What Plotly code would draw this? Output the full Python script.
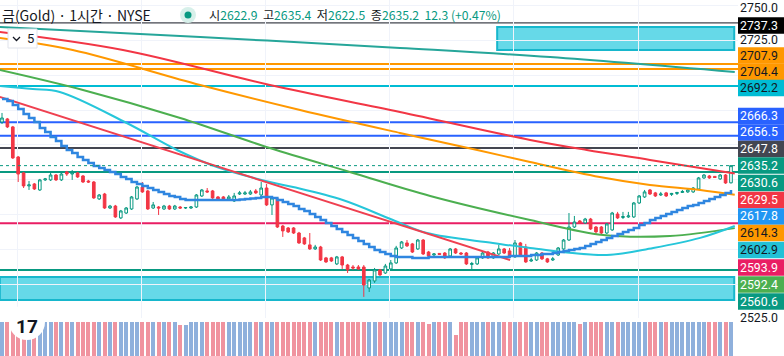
import plotly.graph_objects as go

# ---------------- DATA ----------------
candle_open = [2666.4,2668.6,2662.9,2641.4,2630.0,2620.7,2622.1,2617.8,2625.0,2625.0,
 2628.5,2625.0,2630.7,2629.2,2630.0,2627.8,2624.2,2623.5,2611.4,2614.9,
 2604.9,2606.3,2597.8,2601.3,2604.2,2611.4,2619.9,2617.1,2604.9,2605.6,
 2604.2,2606.3,2604.2,2605.6,2604.9,2604.9,2605.6,2613.5,2617.1,2617.1,
 2612.8,2612.8,2611.4,2609.9,2614.9,2614.9,2614.9,2617.1,2614.2,2619.2,
 2607.1,2611.4,2592.0,2590.6,2590.6,2587.0,2583.5,2578.5,2575.6,2577.0,
 2569.2,2569.2,2564.9,2569.9,2564.1,2562.7,2562.7,2562.7,2547.7,2552.7,
 2560.6,2558.4,2561.3,2565.6,2576.3,2579.9,2579.2,2575.6,2582.0,2573.4,
 2571.3,2572.4,2572.7,2570.6,2575.6,2572.7,2572.7,2564.5,2564.9,2569.2,
 2573.4,2569.2,2572.0,2575.6,2574.2,2569.9,2579.9,2577.0,2567.0,2567.7,
 2572.7,2568.5,2567.7,2571.3,2575.6,2582.0,2591.3,2595.6,2594.2,2597.0,
 2591.3,2591.3,2587.0,2589.2,2600.6,2598.1,2598.5,2598.5,2608.5,2612.8,
 2617.8,2615.7,2614.2,2615.7,2614.6,2615.3,2616.0,2616.4,2616.4,2618.5,
 2626.4,2627.8,2627.5,2625.7,2628.5,2622.9]
candle_close = [2669.3,2662.9,2640.7,2629.2,2620.7,2621.4,2618.5,2625.0,2625.7,2628.5,
 2625.0,2629.2,2629.2,2630.0,2627.1,2623.5,2623.5,2612.1,2614.2,2604.9,
 2606.3,2598.5,2602.8,2604.9,2612.8,2619.9,2616.4,2604.2,2607.1,2604.9,
 2606.3,2604.2,2606.3,2604.9,2605.2,2605.6,2614.2,2617.8,2616.4,2612.1,
 2611.4,2611.4,2612.8,2613.5,2615.7,2615.7,2616.4,2615.7,2619.2,2607.1,
 2612.1,2591.3,2588.5,2587.8,2587.0,2579.9,2579.2,2575.6,2577.0,2567.7,
 2566.3,2567.0,2569.9,2564.1,2560.6,2562.0,2561.3,2549.8,2553.4,2560.6,
 2557.0,2563.4,2565.6,2576.3,2580.6,2577.8,2573.4,2582.0,2572.0,2570.6,
 2572.0,2571.7,2569.2,2575.6,2572.7,2572.0,2564.9,2565.2,2569.2,2572.7,
 2569.2,2572.7,2575.6,2572.7,2569.9,2579.9,2571.3,2566.3,2567.7,2572.7,
 2568.5,2566.3,2568.5,2576.3,2582.0,2591.3,2594.9,2594.2,2597.0,2589.9,
 2587.8,2587.0,2593.5,2601.3,2597.8,2598.8,2599.2,2608.5,2613.5,2616.4,
 2614.9,2613.5,2614.9,2613.5,2615.3,2616.0,2616.7,2617.8,2619.2,2626.4,
 2628.5,2626.4,2626.7,2628.5,2622.8,2635.2]
candle_high = [2672.9,2669.3,2663.6,2642.1,2630.7,2624.2,2622.8,2625.7,2626.4,2630.7,
 2629.2,2630.0,2631.4,2632.1,2630.7,2628.5,2625.0,2624.2,2614.9,2615.7,
 2607.1,2607.1,2603.5,2605.6,2613.5,2620.7,2623.5,2617.8,2609.2,2606.3,
 2607.1,2607.1,2607.1,2606.3,2605.6,2606.3,2614.9,2618.5,2619.2,2617.8,
 2613.5,2613.5,2614.2,2615.7,2617.1,2617.1,2617.8,2618.5,2623.5,2622.1,
 2612.8,2612.1,2592.8,2591.3,2591.3,2587.8,2584.2,2587.0,2578.5,2577.8,
 2569.9,2569.9,2570.6,2570.6,2564.9,2564.1,2564.1,2564.1,2554.1,2562.0,
 2561.3,2564.9,2567.7,2577.8,2581.3,2582.0,2579.9,2582.7,2582.7,2574.2,
 2572.7,2572.7,2573.4,2576.3,2576.3,2573.4,2573.4,2566.3,2569.9,2573.4,
 2574.2,2573.4,2578.5,2576.3,2576.3,2582.0,2580.6,2579.2,2569.2,2573.4,
 2573.4,2569.2,2569.9,2577.0,2582.7,2601.3,2599.2,2596.3,2597.8,2597.8,
 2592.0,2592.0,2594.2,2602.1,2602.1,2602.1,2602.1,2609.2,2614.2,2617.8,
 2618.5,2616.4,2616.4,2616.4,2615.7,2616.4,2617.8,2619.2,2619.9,2627.1,
 2629.2,2628.5,2627.8,2629.2,2629.2,2635.4]
candle_low = [2665.0,2662.1,2640.0,2623.5,2619.2,2617.8,2617.8,2617.1,2624.2,2624.2,
 2624.2,2624.2,2627.8,2625.0,2626.4,2622.8,2622.8,2611.4,2610.6,2604.2,
 2604.2,2597.8,2597.0,2600.6,2603.5,2610.6,2615.7,2603.5,2604.2,2599.9,
 2603.5,2603.5,2603.5,2604.2,2604.2,2604.2,2604.9,2612.8,2615.7,2611.4,
 2610.6,2610.6,2610.6,2609.2,2614.2,2614.2,2614.2,2614.9,2613.5,2606.3,
 2599.9,2590.6,2584.2,2587.0,2586.3,2579.2,2578.5,2574.9,2574.9,2567.0,
 2565.6,2566.3,2564.1,2561.3,2558.4,2560.6,2560.6,2541.3,2544.8,2551.3,
 2556.3,2557.7,2560.6,2564.9,2575.6,2577.0,2572.7,2574.9,2571.3,2569.9,
 2570.6,2571.3,2568.5,2569.9,2572.0,2571.3,2564.1,2560.6,2564.1,2568.5,
 2568.5,2568.5,2571.3,2572.0,2569.2,2569.2,2570.6,2565.6,2566.3,2567.0,
 2567.7,2565.6,2567.0,2570.6,2574.9,2581.3,2590.6,2593.5,2593.5,2589.2,
 2586.3,2586.3,2586.3,2588.5,2597.0,2597.0,2597.8,2597.8,2607.8,2612.1,
 2614.2,2612.8,2613.5,2612.8,2613.5,2614.2,2615.7,2615.7,2615.7,2617.8,
 2625.7,2625.7,2626.4,2625.0,2622.1,2622.5]
volume = [130,130,130,130,130,130,130,130,130,130,130,130,130,130,130,130,130,130,130,130,
 130,130,130,130,130,130,130,130,130,130,130,130,130,90,92,130,130,130,130,130,
 130,130,130,130,130,130,130,130,130,130,130,130,130,130,130,130,130,130,130,130,
 130,130,130,130,130,130,130,130,130,130,130,130,130,130,130,130,130,130,130,94,
 130,130,130,130,62,130,130,130,130,130,130,130,130,130,130,130,130,130,130,130,
 130,130,130,130,130,130,130,94,130,130,130,130,130,130,130,130,130,130,130,130,
 130,130,130,130,130,130,130,130,130,130,130,130,130,130,130,130]

# stepped trailing line (blue), one value per candle
blue_step = [2682.9,2681.5,2678.6,2675.7,2672.2,2669.3,2666.4,2662.1,2659.3,2655.7,
 2652.8,2649.3,2646.4,2644.3,2641.4,2639.3,2637.1,2635.0,2633.5,2632.1,
 2630.7,2629.2,2627.1,2625.7,2623.5,2622.1,2620.7,2619.2,2617.8,2616.4,
 2614.9,2613.5,2612.8,2611.4,2610.6,2610.6,2610.6,2610.6,2610.6,2610.6,
 2610.6,2610.6,2610.6,2610.6,2611.0,2611.4,2611.7,2612.1,2612.8,2612.8,
 2612.1,2610.6,2609.2,2607.8,2606.3,2604.2,2602.8,2600.6,2598.5,2596.3,
 2594.2,2592.0,2589.9,2587.8,2585.6,2583.5,2581.3,2579.2,2577.0,2574.9,
 2573.4,2572.0,2570.6,2569.9,2569.9,2569.9,2569.2,2569.2,2569.2,2569.9,
 2569.9,2569.9,2569.9,2569.9,2569.9,2569.9,2569.9,2569.9,2569.9,2569.9,
 2569.9,2569.9,2569.9,2569.9,2570.6,2570.6,2570.6,2570.6,2571.3,2571.3,
 2572.0,2572.0,2572.7,2573.4,2574.2,2574.9,2575.6,2576.3,2577.7,2579.2,
 2580.6,2582.0,2583.5,2584.9,2586.3,2587.8,2589.2,2590.6,2592.8,2594.2,
 2596.3,2597.8,2599.2,2600.6,2602.1,2603.5,2604.9,2606.3,2607.1,2608.5,
 2609.9,2611.4,2612.8,2614.2,2615.7,2617.8]

# moving averages: (candle index, price) key points
ma_teal_x = [-0.4, 36.7, 73.7, 101.5, 135.7]
ma_teal_y = [2734.4, 2727.2, 2719.4, 2712.9, 2702.2]
ma_red_x = [-0.4, 22.4, 49.6, 73.7, 97.8, 108.3, 120.0, 135.7]
ma_red_y = [2730.8, 2717.9, 2692.9, 2673.6, 2653.6, 2646.4, 2639.3, 2629.5]
ma_orange_x = [-0.4, 13.1, 36.7, 55.2, 73.7, 88.0, 97.8, 110.7, 120.0, 129.3, 135.7]
ma_orange_y = [2726.5, 2717.9, 2692.9, 2675.0, 2658.6, 2646.4, 2637.8, 2627.1, 2621.4, 2617.8, 2614.3]
ma_green_x = [-0.4, 15.0, 33.0, 49.6, 64.4, 79.3, 97.8, 111.3, 123.7, 135.7]
ma_green_y = [2703.6, 2689.3, 2669.3, 2647.8, 2630.7, 2613.5, 2596.3, 2585.6, 2584.9, 2590.5]
ma_cyan_x = [-0.4, 5.7, 10.7, 23.1, 32.4, 39.8, 49.6, 53.9, 63.1, 72.4, 78.7, 90.9, 97.8, 112.0, 120.6, 129.3, 135.7]
ma_cyan_y = [2692.2, 2690.0, 2687.9, 2665.7, 2646.4, 2634.2, 2623.5, 2619.9, 2610.6, 2596.3, 2587.0, 2579.9, 2576.3, 2571.3, 2576.3, 2583.5, 2592.0]
trend_x = [-0.4, 94.1]
trend_y = [2684.3, 2567.7]

# horizontal levels and zones
level_prices = [2737.3, 2707.9, 2704.4, 2692.2, 2666.3, 2656.5, 2647.8, 2630.6, 2593.9, 2560.6]
level_colors = ['#131722', '#ff9800', '#ff9800', '#00bcd4', '#2962ff', '#2962ff', '#434651', '#089981', '#e91e63', '#089981']
zone_top = [2717.9, 2734.4]
zone_bottom = [2539.1, 2555.6]

# right-hand price scale labels
label_texts = ["2750.0", "2737.3", "2725.0", "2707.9", "2704.4", "2692.2", "2666.3", "2656.5", "2647.8", "2635.2",
               "2630.6", "2629.5", "2617.8", "2614.3", "2602.9", "2593.9", "2592.4", "2560.6", "2525.0"]
label_bg = [None, '#000000', None, '#ff9800', '#ff9800', '#00bcd4', '#2962ff', '#2962ff', '#434651', '#089981',
            '#089981', '#f23645', '#2196f3', '#ff9800', '#22c1d6', '#e91e63', '#4caf50', '#089981', None]
label_fg = ['#131722', '#ffffff', '#131722', '#131722', '#131722', '#131722', '#ffffff', '#ffffff', '#ffffff', '#ffffff',
            '#ffffff', '#ffffff', '#ffffff', '#131722', '#131722', '#ffffff', '#ffffff', '#ffffff', '#131722']

# ---------------- LAYOUT CONSTANTS ----------------
W, H = 784, 356
PLOT_R = 738
LABEL_Y_PX = [8, 25.5, 40.5, 55.5, 71.8, 88, 116, 132.5, 149, 165.5, 183, 200, 216.5, 233, 250, 267.5, 284.5, 301.5, 318]
LABEL_H = 16.4
PRICE_BOTTOM_PX = 318
VOL_TOP_PX = 322

def px(x):
    return x / W

def py(y):
    return 1 - y / H

n = len(candle_open)
idx = list(range(n))
UP, DN = '#089981', '#f23645'
vol_colors = ['#8fb0dc' if c >= o else '#f0939f' for o, c in zip(candle_open, candle_close)]

fig = go.Figure()
fig.add_trace(go.Bar(x=idx, y=volume, marker_color=vol_colors, marker_line_width=0, width=0.74,
                     xaxis='x', yaxis='y2', hoverinfo='skip'))

def line(xs, ys, color, width=2, shape='spline', dash='solid'):
    fig.add_trace(go.Scatter(x=xs, y=ys, mode='lines', line=dict(color=color, width=width, shape=shape, dash=dash),
                             xaxis='x', yaxis='y', hoverinfo='skip'))

line(ma_teal_x, ma_teal_y, '#26a69a', 2)
line(ma_red_x, ma_red_y, '#f23645', 2)
line(ma_orange_x, ma_orange_y, '#ff9800', 2)
line(ma_green_x, ma_green_y, '#4caf50', 2)
line(ma_cyan_x, ma_cyan_y, '#26c6da', 2)
line(trend_x, trend_y, '#ef4050', 2, shape='linear')
line(idx, blue_step, '#2f86e0', 2.5, shape='hv')

fig.add_trace(go.Candlestick(x=idx, open=candle_open, high=candle_high, low=candle_low, close=candle_close,
                             increasing=dict(line=dict(color=UP, width=1), fillcolor='#ffffff'),
                             decreasing=dict(line=dict(color=DN, width=1), fillcolor=DN),
                             whiskerwidth=0, xaxis='x', yaxis='y', hoverinfo='skip'))

shapes = []
# zones
shapes.append(dict(type='rect', xref='x', yref='y', x0=91.7, x1=135.6, y0=zone_top[0], y1=zone_top[1],
                   fillcolor='#66d9e8', line=dict(color='#17b7cc', width=2), layer='below'))
shapes.append(dict(type='rect', xref='x', yref='y', x0=-0.4, x1=135.6, y0=zone_bottom[0], y1=zone_bottom[1],
                   fillcolor='#66d9e8', line=dict(color='#17b7cc', width=2), layer='below'))
# level lines
for p, c in zip(level_prices, level_colors):
    shapes.append(dict(type='line', xref='x', yref='y', x0=-0.37, x1=136.3, y0=p, y1=p,
                       line=dict(color=c, width=1 if c == '#131722' else 2), layer='below'))
# current price dotted line
shapes.append(dict(type='line', xref='x', yref='y', x0=-0.37, x1=136.3, y0=candle_close[-1], y1=candle_close[-1],
                   line=dict(color='#089981', width=1, dash='dot'), layer='above'))
# header badge dot
shapes.append(dict(type='circle', xref='paper', yref='paper', x0=px(180), x1=px(196), y0=py(23), y1=py(7),
                   fillcolor='#d7f0ea', line=dict(width=0), layer='above'))
shapes.append(dict(type='circle', xref='paper', yref='paper', x0=px(184.5), x1=px(191.5), y0=py(18.5), y1=py(11.5),
                   fillcolor=UP, line=dict(width=0), layer='above'))
# collapse button
shapes.append(dict(type='rect', xref='paper', yref='paper', x0=px(8), x1=px(37), y0=py(48), y1=py(29),
                   fillcolor='#ffffff', line=dict(color='#e0e3eb', width=1), layer='above'))
shapes.append(dict(type='path', xref='paper', yref='paper',
                   path=f"M {px(13)},{py(37)} L {px(16.5)},{py(40.5)} L {px(20)},{py(37)}",
                   line=dict(color='#131722', width=1.3), layer='above'))
# logo circle
shapes.append(dict(type='circle', xref='paper', yref='paper', x0=px(9), x1=px(45), y0=py(340), y1=py(304),
                   fillcolor='#ffffff', line=dict(width=0), layer='above'))
# price label backgrounds
for bg, ypx in zip(label_bg, LABEL_Y_PX):
    if bg:
        shapes.append(dict(type='rect', xref='paper', yref='paper', x0=px(PLOT_R), x1=1,
                           y0=py(ypx + LABEL_H / 2), y1=py(ypx - LABEL_H / 2),
                           fillcolor=bg, line=dict(width=0), layer='above'))

annotations = []
for t, fg, ypx in zip(label_texts, label_fg, LABEL_Y_PX):
    annotations.append(dict(xref='paper', yref='paper', x=px(PLOT_R + 1), y=py(ypx), xanchor='left', yanchor='middle',
                            text=t, showarrow=False, borderpad=0,
                            font=dict(family='Roboto, sans-serif', size=12.3, color=fg)))

annotations.append(dict(xref='paper', yref='paper', x=0, y=py(15), xanchor='left', yanchor='middle',
                        text='금(Gold) · 1시간 · NYSE', showarrow=False,
                        font=dict(family='Noto Sans CJK KR', size=14, color='#131722')))
o, hh, ll, c = candle_open[-1], candle_high[-1], candle_low[-1], candle_close[-1]
chg = c - o
pct = chg / o * 100
ohlc = (f"<span style='color:#131722'>시</span>{o:.1f}  <span style='color:#131722'>고</span>{hh:.1f}  "
        f"<span style='color:#131722'>저</span>{ll:.1f}  <span style='color:#131722'>종</span>{c:.1f}  "
        f"{chg:.1f} (+{pct:.2f}%)")
annotations.append(dict(xref='paper', yref='paper', x=px(207), y=py(15), xanchor='left', yanchor='middle',
                        text=ohlc, showarrow=False,
                        font=dict(family='Noto Sans CJK KR', size=12.2, color=UP)))
annotations.append(dict(xref='paper', yref='paper', x=px(30), y=py(38.5), xanchor='center', yanchor='middle',
                        text='5', showarrow=False, font=dict(family='Roboto', size=13, color='#131722')))
annotations.append(dict(xref='paper', yref='paper', x=px(27), y=py(326), xanchor='center', yanchor='middle',
                        text='<b>17</b>', showarrow=False, font=dict(family='Roboto', size=19, color='#131722')))

grid_x = [2.8, 25.8, 48.8, 71.8, 94.8, 117.8]

fig.update_layout(
    width=W, height=H, margin=dict(l=0, r=0, t=0, b=0),
    paper_bgcolor='#ffffff', plot_bgcolor='#ffffff', showlegend=False,
    xaxis=dict(domain=[0, px(PLOT_R)], range=[-0.37, 136.3], showticklabels=False, tickvals=grid_x,
               showgrid=True, gridcolor='#f0f3fa', zeroline=False, rangeslider=dict(visible=False),
               ticks='', showline=False, anchor='y2'),
    yaxis=dict(domain=[py(PRICE_BOTTOM_PX), 1], range=[2526.2, 2753.7], showticklabels=False,
               tickvals=[2550, 2575, 2600, 2625, 2650, 2675, 2700, 2725, 2750],
               showgrid=True, gridcolor='#f0f3fa', zeroline=False, ticks=''),
    yaxis2=dict(domain=[0, py(VOL_TOP_PX)], range=[0, 100], showticklabels=False, showgrid=False,
                zeroline=False, ticks=''),
    shapes=shapes, annotations=annotations, bargap=0,
)

fig.write_html("out.html", config={'displayModeBar': False},
               post_script="document.body.style.margin='0';document.body.style.overflow='hidden';")
